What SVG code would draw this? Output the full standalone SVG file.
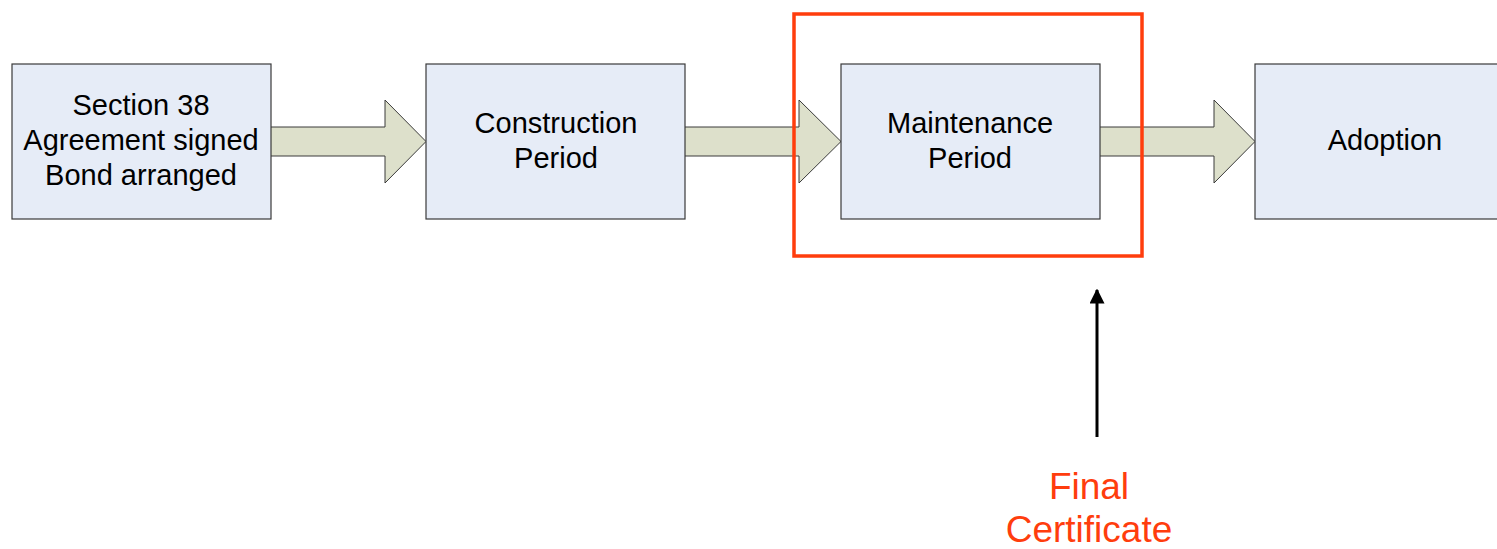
<svg xmlns="http://www.w3.org/2000/svg" width="1497" height="549" viewBox="0 0 1497 549">
<defs>
<style>
.box{fill:#E6ECF7;stroke:#3a3a3a;stroke-width:1.2}
.lbl{font-family:"Liberation Sans",Arial,sans-serif;font-size:29px;fill:#000;text-anchor:middle}
.flow{fill:#DDE0CB;stroke:#3a3a3a;stroke-width:1}
.red{fill:#FF3D0D;font-family:"Liberation Sans",Arial,sans-serif;font-size:37px;text-anchor:middle}
</style>
<marker id="ah" viewBox="0 0 10 10" refX="9" refY="5" markerWidth="5" markerHeight="5" orient="auto" markerUnits="strokeWidth">
<path d="M0,0 L10,5 L0,10 Z" fill="#000"/>
</marker>
</defs>
<rect width="1497" height="549" fill="#fff"/>
<g id="connectors">
<path class="flow" d="M271,127 H385 V100 L426,141.5 L385,183 V156 H271"/>
<path class="flow" d="M685,127 H799 V100 L841,141.5 L799,183 V156 H685"/>
<path class="flow" d="M1100,127 H1214 V100 L1255,141.5 L1214,183 V156 H1100"/>
<line x1="1097" y1="437" x2="1097" y2="290" stroke="#000" stroke-width="3" marker-end="url(#ah)"/>
</g>
<g id="node-section38">
<rect class="box" x="12" y="64" width="259" height="155"/>
<text class="lbl" x="141" y="115">Section 38</text>
<text class="lbl" x="141" y="150">Agreement signed</text>
<text class="lbl" x="141" y="185">Bond arranged</text>
</g>
<g id="node-construction">
<rect class="box" x="426" y="64" width="259" height="155"/>
<text class="lbl" x="556" y="133">Construction</text>
<text class="lbl" x="556" y="168">Period</text>
</g>
<g id="node-maintenance">
<rect class="box" x="841" y="64" width="259" height="155"/>
<text class="lbl" x="970" y="133">Maintenance</text>
<text class="lbl" x="970" y="168">Period</text>
</g>
<g id="node-adoption">
<rect class="box" x="1255" y="64" width="260" height="155"/>
<text class="lbl" x="1385" y="150">Adoption</text>
</g>
<g id="highlight">
<rect x="794" y="14" width="348" height="242" fill="none" stroke="#FF3D0D" stroke-width="3.5"/>
</g>
<g id="node-final-certificate">
<text class="red" x="1089" y="499">Final</text>
<text class="red" x="1089" y="542">Certificate</text>
</g>
</svg>
